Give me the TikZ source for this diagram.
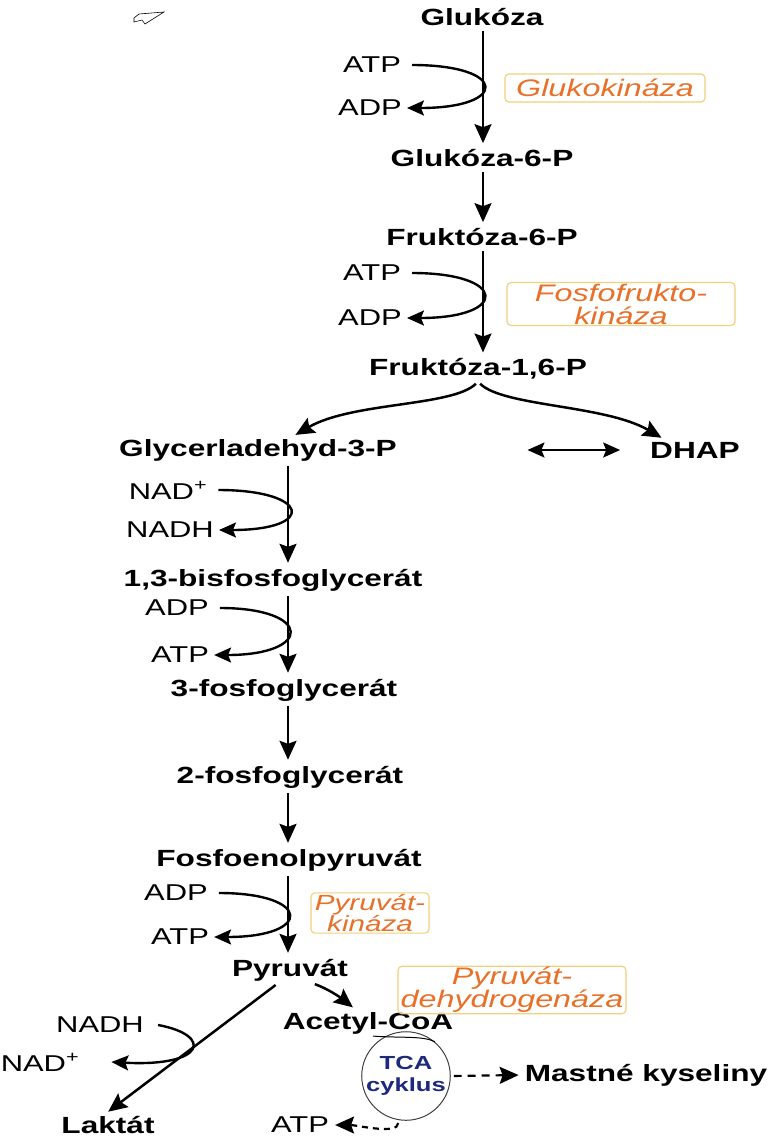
\documentclass[tikz,border=0pt]{standalone}
\usepackage{fontspec}
\setmainfont{Liberation Sans}[FakeStretch=1.35]
\usetikzlibrary{arrows.meta}
\definecolor{enzorange}{RGB}{232,112,40}
\definecolor{enzframe}{RGB}{242,208,125}
\definecolor{tcablue}{RGB}{30,40,125}

\begin{document}
\begin{tikzpicture}[x=1bp, y=-1bp,
  met/.style={font=\fontsize{23.5}{25}\selectfont\bfseries, inner sep=2pt},
  cof/.style={font=\fontsize{23}{25}\selectfont, inner sep=2pt},
  enz/.style={draw=enzframe, line width=1.2pt, rounded corners=4pt, text=enzorange, font=\fontsize{24}{23}\selectfont\itshape, align=center, inner sep=1pt, minimum height=28bp},
  tcacirc/.style={circle, draw=black!75, line width=1pt, minimum size=82bp, inner sep=0pt, text=tcablue, font=\fontsize{19}{22}\selectfont\bfseries, align=center},
  flow/.style={line width=2.5pt, -{Stealth[length=19pt,width=17pt,inset=3pt]}, shorten <=3pt, shorten >=4pt},
  side/.style={line width=2.4pt, -{Stealth[length=17pt,width=15pt,inset=3pt]}, shorten <=9pt, shorten >=3pt},
  ]

\fill[white] (0,0) rectangle (782,1138);
\useasboundingbox (0,0) rectangle (782,1138);

\draw[line width=0.6pt] (134,18) -- (139,14) -- (164,12) -- (145,24) -- (142,20) -- (134,22) -- cycle;

\coordinate (colA) at (483,0);
\coordinate (colB) at (288,0);

\node[met] (glc) at (482,17) {Glukóza};
\node[met] (g6p) at (482,158) {Glukóza-6-P};
\node[met] (f6p) at (482,237) {Fruktóza-6-P};
\node[met] (fbp) at (478,369) {Fruktóza-1,6-P};
\node[met] (gap) at (258,450) {Glycerladehyd-3-P};
\node[met] (dhap) at (695,450) {DHAP};
\node[met] (bpg) at (273,580) {1,3-bisfosfoglycerát};
\node[met] (pgc3) at (284,690) {3-fosfoglycerát};
\node[met] (pgc2) at (290,777) {2-fosfoglycerát};
\node[met] (pep) at (289,860) {Fosfoenolpyruvát};
\node[met] (pyr) at (290,970) {Pyruvát};
\node[met] (acoa) at (368,1023) {Acetyl-CoA};
\node[met] (lak) at (108,1125) {Laktát};
\node[met] (fa) at (646,1075) {Mastné kyseliny};
\node[tcacirc] (tca) at (406,1076) {TCA\\cyklus};

\node[cof] (atpA) at (372,65) {ATP};
\node[cof] (adpA) at (370,108) {ADP};
\node[cof] (atpB) at (372,273) {ATP};
\node[cof] (adpB) at (370,318) {ADP};
\node[cof] (nadA) at (168,490) {NAD\textsuperscript{+}};
\node[cof] (nadhA) at (170,530) {NADH};
\node[cof] (adpC) at (177,608) {ADP};
\node[cof] (atpC) at (180,655) {ATP};
\node[cof] (adpD) at (176,893) {ADP};
\node[cof] (atpD) at (180,937) {ATP};
\node[cof] (nadhB) at (100,1025) {NADH};
\node[cof] (nadB) at (40,1062) {NAD\textsuperscript{+}};
\node[cof] (atpE) at (300,1125) {ATP};

\node[enz, minimum width=200bp] (gk) at (605,88) {Glukokináza};
\node[enz, minimum width=228bp, minimum height=43bp] (pfk) at (621,304) {Fosfofrukto-\\kináza};
\node[enz, minimum width=118bp, minimum height=40bp, font=\fontsize{22}{22}\selectfont\itshape] (pk) at (370,913) {Pyruvát-\\kináza};
\node[enz, minimum width=228bp, minimum height=44bp] (pdh) at (512,990) {Pyruvát-\\dehydrogenáza};

\draw[flow] (glc.south -| colA) -- (g6p.north -| colA);
\draw[flow] (g6p.south -| colA) -- (f6p.north -| colA);
\draw[flow] (f6p.south -| colA) -- (fbp.north -| colA);
\draw[flow] (fbp.south) .. controls +(-25,25) and +(60,-35) .. ([xshift=34bp]gap.north);
\draw[flow] (fbp.south) .. controls +(25,25) and +(-60,-35) .. ([xshift=-30bp]dhap.north);
\draw[line width=2.2pt, {Stealth[length=17pt,width=15pt,inset=3pt]}-{Stealth[length=17pt,width=15pt,inset=3pt]}, shorten <=129pt, shorten >=28pt] (gap.east) -- (dhap.west);
\draw[flow] (gap.south -| colB) -- (bpg.north -| colB);
\draw[flow] (bpg.south -| colB) -- (pgc3.north -| colB);
\draw[flow] (pgc3.south -| colB) -- (pgc2.north -| colB);
\draw[flow] (pgc2.south -| colB) -- (pep.north -| colB);
\draw[flow] (pep.south -| colB) -- (pyr.north -| colB);
\draw[flow] ([xshift=-12bp]pyr.south) -- ([xshift=-3bp]lak.north);
\draw[flow] ([xshift=22bp]pyr.south) .. controls +(15,5) and +(-15,-12) .. ([xshift=-12bp]acoa.north);

\draw[side] (atpA.east) .. controls +(105,0) and +(105,0) .. (adpA.east);
\draw[side] (atpB.east) .. controls +(105,0) and +(105,0) .. (adpB.east);
\draw[side] (nadA.east) .. controls +(101,0) and +(101,0) .. (nadhA.east);
\draw[side] (adpC.east) .. controls +(102,0) and +(102,0) .. (atpC.east);
\draw[side] (adpD.east) .. controls +(102,0) and +(102,0) .. (atpD.east);
\draw[side, shorten <=0pt, shorten >=0pt] ([xshift=12bp]nadhB.east) .. controls +(55,10) and +(95,5) .. ([xshift=30bp]nadB.east);

\draw[line width=1pt] ([xshift=5bp]acoa.south) .. controls +(30,2) and +(-12,-6) .. (tca.50);
\draw[flow, line width=2.2pt, dash pattern=on 8pt off 6pt] (tca.east) -- (fa.west);
\draw[flow, line width=2.2pt, dash pattern=on 6pt off 5pt] (tca.-100) .. controls +(0,15) and +(25,0) .. (atpE.east);

\end{tikzpicture}
\end{document}
